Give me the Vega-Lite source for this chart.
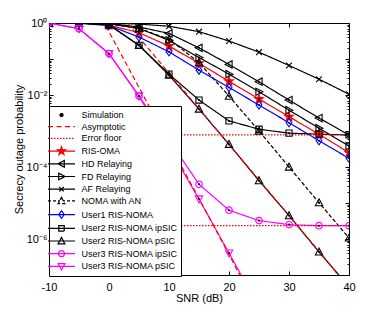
{
  "$schema": "https://vega.github.io/schema/vega-lite/v6.json",
  "width": 300,
  "height": 252,
  "autosize": {"type": "none"},
  "padding": {"left": 49, "top": 23, "right": 36, "bottom": 35},
  "background": "white",
  "config": {
    "font": "Liberation Sans",
    "view": {"stroke": "#000", "strokeWidth": 1},
    "axis": {"grid": false, "domain": false, "tickColor": "#000", "labelColor": "#000", "titleColor": "#000", "labelFont": "Liberation Sans", "titleFont": "Liberation Sans", "labelFontSize": 11, "titleFontSize": 11, "titleFontWeight": "normal", "tickWidth": 1}
  },
  "data": {"values": [
    {"curve": "RIS-OMA", "series": "RIS-OMA", "snr": -10, "p": 1},
    {"curve": "RIS-OMA", "series": "RIS-OMA", "snr": -5, "p": 1},
    {"curve": "RIS-OMA", "series": "RIS-OMA", "snr": 0, "p": 0.871},
    {"curve": "RIS-OMA", "series": "RIS-OMA", "snr": 5, "p": 0.537},
    {"curve": "RIS-OMA", "series": "RIS-OMA", "snr": 10, "p": 0.229},
    {"curve": "RIS-OMA", "series": "RIS-OMA", "snr": 15, "p": 0.0759},
    {"curve": "RIS-OMA", "series": "RIS-OMA", "snr": 20, "p": 0.024},
    {"curve": "RIS-OMA", "series": "RIS-OMA", "snr": 25, "p": 0.00776},
    {"curve": "RIS-OMA", "series": "RIS-OMA", "snr": 30, "p": 0.00251},
    {"curve": "RIS-OMA", "series": "RIS-OMA", "snr": 35, "p": 0.000813},
    {"curve": "RIS-OMA", "series": "RIS-OMA", "snr": 40, "p": 0.000251},

    {"curve": "HD Relaying", "series": "HD Relaying", "snr": -10, "p": 1},
    {"curve": "HD Relaying", "series": "HD Relaying", "snr": -5, "p": 1},
    {"curve": "HD Relaying", "series": "HD Relaying", "snr": 0, "p": 0.977},
    {"curve": "HD Relaying", "series": "HD Relaying", "snr": 5, "p": 0.776},
    {"curve": "HD Relaying", "series": "HD Relaying", "snr": 10, "p": 0.513},
    {"curve": "HD Relaying", "series": "HD Relaying", "snr": 15, "p": 0.204},
    {"curve": "HD Relaying", "series": "HD Relaying", "snr": 20, "p": 0.0708},
    {"curve": "HD Relaying", "series": "HD Relaying", "snr": 25, "p": 0.0234},
    {"curve": "HD Relaying", "series": "HD Relaying", "snr": 30, "p": 0.00724},
    {"curve": "HD Relaying", "series": "HD Relaying", "snr": 35, "p": 0.00229},
    {"curve": "HD Relaying", "series": "HD Relaying", "snr": 40, "p": 0.000776},

    {"curve": "FD Relaying", "series": "FD Relaying", "snr": -10, "p": 1},
    {"curve": "FD Relaying", "series": "FD Relaying", "snr": -5, "p": 1},
    {"curve": "FD Relaying", "series": "FD Relaying", "snr": 0, "p": 0.955},
    {"curve": "FD Relaying", "series": "FD Relaying", "snr": 5, "p": 0.708},
    {"curve": "FD Relaying", "series": "FD Relaying", "snr": 10, "p": 0.331},
    {"curve": "FD Relaying", "series": "FD Relaying", "snr": 15, "p": 0.11},
    {"curve": "FD Relaying", "series": "FD Relaying", "snr": 20, "p": 0.038},
    {"curve": "FD Relaying", "series": "FD Relaying", "snr": 25, "p": 0.0123},
    {"curve": "FD Relaying", "series": "FD Relaying", "snr": 30, "p": 0.0038},
    {"curve": "FD Relaying", "series": "FD Relaying", "snr": 35, "p": 0.0012},
    {"curve": "FD Relaying", "series": "FD Relaying", "snr": 40, "p": 0.00038},

    {"curve": "AF Relaying", "series": "AF Relaying", "snr": -10, "p": 1},
    {"curve": "AF Relaying", "series": "AF Relaying", "snr": -5, "p": 1},
    {"curve": "AF Relaying", "series": "AF Relaying", "snr": 0, "p": 1},
    {"curve": "AF Relaying", "series": "AF Relaying", "snr": 5, "p": 0.933},
    {"curve": "AF Relaying", "series": "AF Relaying", "snr": 10, "p": 0.813},
    {"curve": "AF Relaying", "series": "AF Relaying", "snr": 15, "p": 0.575},
    {"curve": "AF Relaying", "series": "AF Relaying", "snr": 20, "p": 0.316},
    {"curve": "AF Relaying", "series": "AF Relaying", "snr": 25, "p": 0.155},
    {"curve": "AF Relaying", "series": "AF Relaying", "snr": 30, "p": 0.0661},
    {"curve": "AF Relaying", "series": "AF Relaying", "snr": 35, "p": 0.0275},
    {"curve": "AF Relaying", "series": "AF Relaying", "snr": 40, "p": 0.0105},

    {"curve": "NOMA with AN", "series": "NOMA with AN", "snr": -10, "p": 1},
    {"curve": "NOMA with AN", "series": "NOMA with AN", "snr": -5, "p": 1},
    {"curve": "NOMA with AN", "series": "NOMA with AN", "snr": 0, "p": 0.955},
    {"curve": "NOMA with AN", "series": "NOMA with AN", "snr": 5, "p": 0.708},
    {"curve": "NOMA with AN", "series": "NOMA with AN", "snr": 10, "p": 0.355},
    {"curve": "NOMA with AN", "series": "NOMA with AN", "snr": 15, "p": 0.0794},
    {"curve": "NOMA with AN", "series": "NOMA with AN", "snr": 20, "p": 0.00933},
    {"curve": "NOMA with AN", "series": "NOMA with AN", "snr": 25, "p": 0.001},
    {"curve": "NOMA with AN", "series": "NOMA with AN", "snr": 30, "p": 0.0001},
    {"curve": "NOMA with AN", "series": "NOMA with AN", "snr": 35, "p": 0.0000102},
    {"curve": "NOMA with AN", "series": "NOMA with AN", "snr": 40, "p": 0.00000107},

    {"curve": "User1 RIS-NOMA", "series": "User1 RIS-NOMA", "snr": -10, "p": 1},
    {"curve": "User1 RIS-NOMA", "series": "User1 RIS-NOMA", "snr": -5, "p": 0.977},
    {"curve": "User1 RIS-NOMA", "series": "User1 RIS-NOMA", "snr": 0, "p": 0.851},
    {"curve": "User1 RIS-NOMA", "series": "User1 RIS-NOMA", "snr": 5, "p": 0.407},
    {"curve": "User1 RIS-NOMA", "series": "User1 RIS-NOMA", "snr": 10, "p": 0.158},
    {"curve": "User1 RIS-NOMA", "series": "User1 RIS-NOMA", "snr": 15, "p": 0.049},
    {"curve": "User1 RIS-NOMA", "series": "User1 RIS-NOMA", "snr": 20, "p": 0.0162},
    {"curve": "User1 RIS-NOMA", "series": "User1 RIS-NOMA", "snr": 25, "p": 0.00525},
    {"curve": "User1 RIS-NOMA", "series": "User1 RIS-NOMA", "snr": 30, "p": 0.0017},
    {"curve": "User1 RIS-NOMA", "series": "User1 RIS-NOMA", "snr": 35, "p": 0.000537},
    {"curve": "User1 RIS-NOMA", "series": "User1 RIS-NOMA", "snr": 40, "p": 0.000174},

    {"curve": "User2 RIS-NOMA ipSIC", "series": "User2 RIS-NOMA ipSIC", "snr": -10, "p": 1},
    {"curve": "User2 RIS-NOMA ipSIC", "series": "User2 RIS-NOMA ipSIC", "snr": -5, "p": 1},
    {"curve": "User2 RIS-NOMA ipSIC", "series": "User2 RIS-NOMA ipSIC", "snr": 0, "p": 0.891},
    {"curve": "User2 RIS-NOMA ipSIC", "series": "User2 RIS-NOMA ipSIC", "snr": 5, "p": 0.24},
    {"curve": "User2 RIS-NOMA ipSIC", "series": "User2 RIS-NOMA ipSIC", "snr": 10, "p": 0.038},
    {"curve": "User2 RIS-NOMA ipSIC", "series": "User2 RIS-NOMA ipSIC", "snr": 15, "p": 0.00724},
    {"curve": "User2 RIS-NOMA ipSIC", "series": "User2 RIS-NOMA ipSIC", "snr": 20, "p": 0.00191},
    {"curve": "User2 RIS-NOMA ipSIC", "series": "User2 RIS-NOMA ipSIC", "snr": 25, "p": 0.00112},
    {"curve": "User2 RIS-NOMA ipSIC", "series": "User2 RIS-NOMA ipSIC", "snr": 30, "p": 0.000871},
    {"curve": "User2 RIS-NOMA ipSIC", "series": "User2 RIS-NOMA ipSIC", "snr": 35, "p": 0.000813},
    {"curve": "User2 RIS-NOMA ipSIC", "series": "User2 RIS-NOMA ipSIC", "snr": 40, "p": 0.000776},

    {"curve": "User2 RIS-NOMA pSIC", "series": "User2 RIS-NOMA pSIC", "snr": -10, "p": 1},
    {"curve": "User2 RIS-NOMA pSIC", "series": "User2 RIS-NOMA pSIC", "snr": -5, "p": 1},
    {"curve": "User2 RIS-NOMA pSIC", "series": "User2 RIS-NOMA pSIC", "snr": 0, "p": 0.891},
    {"curve": "User2 RIS-NOMA pSIC", "series": "User2 RIS-NOMA pSIC", "snr": 5, "p": 0.24},
    {"curve": "User2 RIS-NOMA pSIC", "series": "User2 RIS-NOMA pSIC", "snr": 10, "p": 0.0355},
    {"curve": "User2 RIS-NOMA pSIC", "series": "User2 RIS-NOMA pSIC", "snr": 15, "p": 0.00407},
    {"curve": "User2 RIS-NOMA pSIC", "series": "User2 RIS-NOMA pSIC", "snr": 20, "p": 0.000427},
    {"curve": "User2 RIS-NOMA pSIC", "series": "User2 RIS-NOMA pSIC", "snr": 25, "p": 0.0000417},
    {"curve": "User2 RIS-NOMA pSIC", "series": "User2 RIS-NOMA pSIC", "snr": 30, "p": 0.00000447},
    {"curve": "User2 RIS-NOMA pSIC", "series": "User2 RIS-NOMA pSIC", "snr": 35, "p": 0.000000437},
    {"curve": "User2 RIS-NOMA pSIC", "series": "User2 RIS-NOMA pSIC", "snr": 40, "p": 0.0000000468},

    {"curve": "User3 RIS-NOMA ipSIC", "series": "User3 RIS-NOMA ipSIC", "snr": -10, "p": 1},
    {"curve": "User3 RIS-NOMA ipSIC", "series": "User3 RIS-NOMA ipSIC", "snr": -5, "p": 0.692},
    {"curve": "User3 RIS-NOMA ipSIC", "series": "User3 RIS-NOMA ipSIC", "snr": 0, "p": 0.141},
    {"curve": "User3 RIS-NOMA ipSIC", "series": "User3 RIS-NOMA ipSIC", "snr": 5, "p": 0.00933},
    {"curve": "User3 RIS-NOMA ipSIC", "series": "User3 RIS-NOMA ipSIC", "snr": 10, "p": 0.000562},
    {"curve": "User3 RIS-NOMA ipSIC", "series": "User3 RIS-NOMA ipSIC", "snr": 15, "p": 0.0000331},
    {"curve": "User3 RIS-NOMA ipSIC", "series": "User3 RIS-NOMA ipSIC", "snr": 20, "p": 0.00000631},
    {"curve": "User3 RIS-NOMA ipSIC", "series": "User3 RIS-NOMA ipSIC", "snr": 25, "p": 0.00000324},
    {"curve": "User3 RIS-NOMA ipSIC", "series": "User3 RIS-NOMA ipSIC", "snr": 30, "p": 0.00000251},
    {"curve": "User3 RIS-NOMA ipSIC", "series": "User3 RIS-NOMA ipSIC", "snr": 35, "p": 0.00000234},
    {"curve": "User3 RIS-NOMA ipSIC", "series": "User3 RIS-NOMA ipSIC", "snr": 40, "p": 0.00000234},

    {"curve": "User3 RIS-NOMA pSIC", "series": "User3 RIS-NOMA pSIC", "snr": -10, "p": 1},
    {"curve": "User3 RIS-NOMA pSIC", "series": "User3 RIS-NOMA pSIC", "snr": -5, "p": 0.692},
    {"curve": "User3 RIS-NOMA pSIC", "series": "User3 RIS-NOMA pSIC", "snr": 0, "p": 0.141},
    {"curve": "User3 RIS-NOMA pSIC", "series": "User3 RIS-NOMA pSIC", "snr": 5, "p": 0.00933},
    {"curve": "User3 RIS-NOMA pSIC", "series": "User3 RIS-NOMA pSIC", "snr": 10, "p": 0.000347},
    {"curve": "User3 RIS-NOMA pSIC", "series": "User3 RIS-NOMA pSIC", "snr": 15, "p": 0.0000129},
    {"curve": "User3 RIS-NOMA pSIC", "series": "User3 RIS-NOMA pSIC", "snr": 20, "p": 0.000000407},
    {"curve": "User3 RIS-NOMA pSIC", "series": "User3 RIS-NOMA pSIC", "snr": 25, "p": 0.0000000126},

    {"curve": "asym3", "series": "Asymptotic", "snr": -0.5, "p": 0.815},
    {"curve": "asym3", "series": "Asymptotic", "snr": 5, "p": 0.0162},
    {"curve": "asym3", "series": "Asymptotic", "snr": 10, "p": 0.000457},
    {"curve": "asym3", "series": "Asymptotic", "snr": 15, "p": 0.0000132},
    {"curve": "asym3", "series": "Asymptotic", "snr": 20, "p": 0.000000372},
    {"curve": "asym3", "series": "Asymptotic", "snr": 21.8, "p": 0.0000001},

    {"curve": "asym2", "series": "Asymptotic", "snr": 3.1, "p": 1},
    {"curve": "asym2", "series": "Asymptotic", "snr": 5, "p": 0.398},
    {"curve": "asym2", "series": "Asymptotic", "snr": 10, "p": 0.0407},
    {"curve": "asym2", "series": "Asymptotic", "snr": 15, "p": 0.00417},
    {"curve": "asym2", "series": "Asymptotic", "snr": 20, "p": 0.000427},
    {"curve": "asym2", "series": "Asymptotic", "snr": 25, "p": 0.0000437},
    {"curve": "asym2", "series": "Asymptotic", "snr": 30, "p": 0.00000447},
    {"curve": "asym2", "series": "Asymptotic", "snr": 35, "p": 0.000000457},
    {"curve": "asym2", "series": "Asymptotic", "snr": 38.2, "p": 0.0000001},

    {"curve": "floor2", "series": "Error floor", "snr": -10, "p": 0.000776},
    {"curve": "floor2", "series": "Error floor", "snr": 40, "p": 0.000776},
    {"curve": "floor3", "series": "Error floor", "snr": -10, "p": 0.00000234},
    {"curve": "floor3", "series": "Error floor", "snr": 40, "p": 0.00000234}
  ]},
  "resolve": {"axis": {"x": "independent", "y": "independent"}},
  "encoding": {
    "color": {"field": "series", "type": "nominal",
      "scale": {
        "domain": ["Simulation", "Asymptotic", "Error floor", "RIS-OMA", "HD Relaying", "FD Relaying", "AF Relaying", "NOMA with AN", "User1 RIS-NOMA", "User2 RIS-NOMA ipSIC", "User2 RIS-NOMA pSIC", "User3 RIS-NOMA ipSIC", "User3 RIS-NOMA pSIC"],
        "range": ["#000000", "#ff0000", "#ff0000", "#ff0000", "#000000", "#000000", "#000000", "#000000", "#0000ff", "#000000", "#000000", "#ff00ff", "#ff00ff"]},
      "legend": {
        "title": null, "orient": "none", "legendX": 0, "legendY": 83,
        "direction": "vertical", "columns": 1,
        "padding": 3, "fillColor": "#ffffff", "strokeColor": "#000000",
        "labelFont": "Liberation Sans", "labelFontSize": 9, "labelColor": "#000000", "labelLimit": 300,
        "labelAlign": "left",
        "labelOffset": 14, "symbolOffset": 3.5, "rowPadding": 0.7,
        "symbolSize": 100, "symbolStrokeWidth": 1.2,
        "encode": {"symbols": {"update": {
          "shape": {"signal": "{'Simulation':'M-0.3,0A0.3,0.3 0 1,0 0.3,0A0.3,0.3 0 1,0 -0.3,0Z','Asymptotic':'M-2.7,0H-1.6M-1,0H0.1M0.7,0H1.8M2.4,0H2.7','Error floor':'M-2.7,0H-2.4M-2.1,0H-1.8M-1.5,0H-1.2M-0.9,0H-0.6M-0.3,0H0M0.3,0H0.6M0.9,0H1.2M1.5,0H1.8M2.1,0H2.4','RIS-OMA':'M-2.7,0H2.7M0,-0.85L0.2,-0.275L0.808,-0.263L0.323,0.105L0.5,0.688L0,0.34L-0.5,0.688L-0.323,0.105L-0.808,-0.263L-0.2,-0.275Z','HD Relaying':'M-2.7,0H2.7M-0.7,0L0.56,-0.67L0.56,0.67Z','FD Relaying':'M-2.7,0H2.7M0.7,0L-0.56,-0.67L-0.56,0.67Z','AF Relaying':'M-2.7,0H2.7M-0.45,-0.45L0.45,0.45M-0.45,0.45L0.45,-0.45','NOMA with AN':'M-2.7,0H-2.1M-1.7,0H-1.1M-0.7,0H-0.3M0.3,0H0.7M1.1,0H1.7M2.1,0H2.7M0,-0.7L0.67,0.56L-0.67,0.56Z','User1 RIS-NOMA':'M-2.7,0H2.7M0,-0.75L0.55,0L0,0.75L-0.55,0Z','User2 RIS-NOMA ipSIC':'M-2.7,0H2.7M-0.55,-0.55H0.55V0.55H-0.55Z','User2 RIS-NOMA pSIC':'M-2.7,0H2.7M0,-0.7L0.67,0.56L-0.67,0.56Z','User3 RIS-NOMA ipSIC':'M-2.7,0H2.7M-0.6,0A0.6,0.6 0 1,0 0.6,0A0.6,0.6 0 1,0 -0.6,0Z','User3 RIS-NOMA pSIC':'M-2.7,0H2.7M0,0.7L0.67,-0.56L-0.67,-0.56Z'}[datum.value]"},
          "fill": {"signal": "datum.value === 'Simulation' ? '#000000' : datum.value === 'RIS-OMA' ? '#ff0000' : 'transparent'"},
          "stroke": {"scale": "color", "field": "value"},
          "strokeDash": {"value": []},
          "strokeWidth": {"value": 1.2},
          "size": {"value": 100},
          "opacity": {"value": 1}
        }}}
      }},
    "detail": {"field": "curve", "type": "nominal"}
  },
  "layer": [
    {
      "transform": [{"filter": {"field": "series", "oneOf": ["RIS-OMA", "HD Relaying", "FD Relaying", "AF Relaying", "NOMA with AN", "User1 RIS-NOMA", "User2 RIS-NOMA ipSIC", "User2 RIS-NOMA pSIC", "User3 RIS-NOMA ipSIC", "User3 RIS-NOMA pSIC"]}}],
      "mark": {"type": "line", "strokeWidth": 1.2, "clip": true},
      "encoding": {
        "x": {"field": "snr", "type": "quantitative",
          "scale": {"domain": [-10, 40], "nice": false, "zero": false},
          "axis": {"values": [-10, 0, 10, 20, 30, 40], "tickSize": -4, "labelPadding": 10.5, "title": "SNR (dB)", "titlePadding": 0, "labelFlush": false, "labelExpr": "replace(datum.label, '−', '-')"}},
        "y": {"field": "p", "type": "quantitative",
          "scale": {"type": "log", "domain": [0.0000001, 1], "nice": false},
          "axis": {
            "values": [1e-7,2e-7,3e-7,4e-7,5e-7,6e-7,7e-7,8e-7,9e-7,1e-6,2e-6,3e-6,4e-6,5e-6,6e-6,7e-6,8e-6,9e-6,1e-5,2e-5,3e-5,4e-5,5e-5,6e-5,7e-5,8e-5,9e-5,1e-4,2e-4,3e-4,4e-4,5e-4,6e-4,7e-4,8e-4,9e-4,0.001,0.002,0.003,0.004,0.005,0.006,0.007,0.008,0.009,0.01,0.02,0.03,0.04,0.05,0.06,0.07,0.08,0.09,0.1,0.2,0.3,0.4,0.5,0.6,0.7,0.8,0.9,1],
            "labelExpr": "abs(log(datum.value)/LN10 - round(log(datum.value)/LN10)) > 0.01 ? '' : round(log(datum.value)/LN10) == 0 ? '10⁰' : round(log(datum.value)/LN10) == -2 ? '10⁻²' : round(log(datum.value)/LN10) == -4 ? '10⁻⁴' : round(log(datum.value)/LN10) == -6 ? '10⁻⁶' : ''",
            "labelOverlap": false, "labelFlush": false,
            "tickSize": {"condition": {"test": "abs(log(datum.value)/LN10 - round(log(datum.value)/LN10)) < 0.01", "value": -4}, "value": -2},
            "labelPadding": 6,
            "title": "Secrecy outage probability", "titlePadding": 2}},
        "strokeDash": {"field": "series", "type": "nominal", "legend": null,
          "scale": {
            "domain": ["Simulation", "Asymptotic", "Error floor", "RIS-OMA", "HD Relaying", "FD Relaying", "AF Relaying", "NOMA with AN", "User1 RIS-NOMA", "User2 RIS-NOMA ipSIC", "User2 RIS-NOMA pSIC", "User3 RIS-NOMA ipSIC", "User3 RIS-NOMA pSIC"],
            "range": [[1, 0], [5, 3], [1.5, 1.5], [1, 0], [1, 0], [1, 0], [1, 0], [4, 2], [1, 0], [1, 0], [1, 0], [1, 0], [1, 0]]}}
      }
    },
    {
      "transform": [{"filter": {"field": "series", "oneOf": ["Asymptotic", "Error floor"]}}],
      "mark": {"type": "line", "strokeWidth": 1.2, "clip": true},
      "encoding": {
        "x": {"field": "snr", "type": "quantitative", "axis": null},
        "y": {"field": "p", "type": "quantitative", "axis": null},
        "strokeDash": {"field": "series", "type": "nominal", "legend": null,
          "scale": {
            "domain": ["Simulation", "Asymptotic", "Error floor", "RIS-OMA", "HD Relaying", "FD Relaying", "AF Relaying", "NOMA with AN", "User1 RIS-NOMA", "User2 RIS-NOMA ipSIC", "User2 RIS-NOMA pSIC", "User3 RIS-NOMA ipSIC", "User3 RIS-NOMA pSIC"],
            "range": [[1, 0], [5, 3], [1.5, 1.5], [1, 0], [1, 0], [1, 0], [1, 0], [4, 2], [1, 0], [1, 0], [1, 0], [1, 0], [1, 0]]}}
      }
    },
    {
      "transform": [{"filter": {"field": "series", "oneOf": ["RIS-OMA", "HD Relaying", "FD Relaying", "AF Relaying", "NOMA with AN", "User1 RIS-NOMA", "User2 RIS-NOMA ipSIC", "User2 RIS-NOMA pSIC", "User3 RIS-NOMA ipSIC", "User3 RIS-NOMA pSIC"]}}],
      "mark": {"type": "point", "filled": false, "opacity": 1, "size": 60, "strokeWidth": 1.1, "clip": true},
      "encoding": {
        "x": {"field": "snr", "type": "quantitative", "axis": null},
        "y": {"field": "p", "type": "quantitative", "axis": null},
        "shape": {"field": "series", "type": "nominal", "legend": null,
          "scale": {
            "domain": ["RIS-OMA", "HD Relaying", "FD Relaying", "AF Relaying", "NOMA with AN", "User1 RIS-NOMA", "User2 RIS-NOMA ipSIC", "User2 RIS-NOMA pSIC", "User3 RIS-NOMA ipSIC", "User3 RIS-NOMA pSIC"],
            "range": [
              "M0,-1.2L0.282,-0.389L1.141,-0.371L0.456,0.149L0.706,0.971L0,0.48L-0.706,0.971L-0.456,0.149L-1.141,-0.371L-0.282,-0.389Z",
              "M-1,0L0.8,-0.95L0.8,0.95Z",
              "M1,0L-0.8,-0.95L-0.8,0.95Z",
              "M-0.75,-0.75L0.75,0.75M-0.75,0.75L0.75,-0.75",
              "M0,-1L0.95,0.8L-0.95,0.8Z",
              "M0,-1.05L0.75,0L0,1.05L-0.75,0Z",
              "M-0.8,-0.8H0.8V0.8H-0.8Z",
              "M0,-1L0.95,0.8L-0.95,0.8Z",
              "M-0.85,0A0.85,0.85 0 1,0 0.85,0A0.85,0.85 0 1,0 -0.85,0Z",
              "M0,1L0.95,-0.8L-0.95,-0.8Z"]}},
        "fill": {"condition": {"test": "datum.series === 'RIS-OMA'", "value": "#ff0000"}, "value": "transparent"}
      }
    },
    {
      "transform": [{"filter": {"field": "series", "oneOf": ["RIS-OMA", "HD Relaying", "FD Relaying", "AF Relaying", "NOMA with AN", "User1 RIS-NOMA", "User2 RIS-NOMA ipSIC", "User2 RIS-NOMA pSIC", "User3 RIS-NOMA ipSIC", "User3 RIS-NOMA pSIC"]}}],
      "mark": {"type": "point", "filled": true, "shape": "circle", "size": 4, "opacity": 1, "clip": true},
      "encoding": {
        "x": {"field": "snr", "type": "quantitative",
          "axis": {"orient": "top", "values": [-10, 0, 10, 20, 30, 40], "tickSize": -4, "labels": false, "title": null}},
        "y": {"field": "p", "type": "quantitative",
          "axis": {"orient": "right",
            "values": [1e-7,2e-7,3e-7,4e-7,5e-7,6e-7,7e-7,8e-7,9e-7,1e-6,2e-6,3e-6,4e-6,5e-6,6e-6,7e-6,8e-6,9e-6,1e-5,2e-5,3e-5,4e-5,5e-5,6e-5,7e-5,8e-5,9e-5,1e-4,2e-4,3e-4,4e-4,5e-4,6e-4,7e-4,8e-4,9e-4,0.001,0.002,0.003,0.004,0.005,0.006,0.007,0.008,0.009,0.01,0.02,0.03,0.04,0.05,0.06,0.07,0.08,0.09,0.1,0.2,0.3,0.4,0.5,0.6,0.7,0.8,0.9,1],
            "labels": false, "title": null,
            "tickSize": {"condition": {"test": "abs(log(datum.value)/LN10 - round(log(datum.value)/LN10)) < 0.01", "value": -4}, "value": -2}}},
        "color": {"value": "#000000"}
      }
    }
  ]
}
